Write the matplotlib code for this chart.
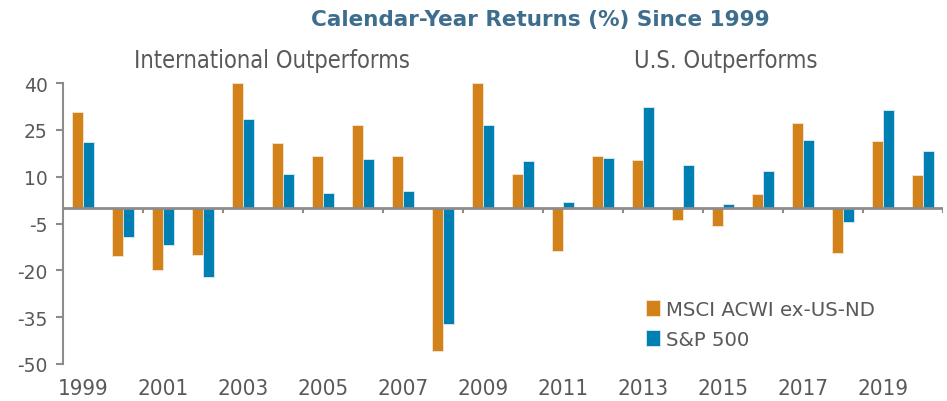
import matplotlib
matplotlib.use("Agg")
import matplotlib.pyplot as plt
import numpy as np

years = list(range(1999, 2021))
msci = [30.6, -15.5, -20.0, -15.0, 40.0, 20.8, 16.5, 26.6, 16.5, -45.8, 40.0,
        11.0, -13.9, 16.7, 15.2, -4.0, -5.8, 4.4, 27.1, -14.4, 21.4, 10.6]
sp500 = [21.0, -9.2, -12.0, -22.2, 28.6, 10.7, 4.8, 15.7, 5.4, -37.2, 26.4,
         14.9, 1.9, 15.9, 32.3, 13.6, 1.2, 11.8, 21.7, -4.5, 31.4, 18.3]
yticks = [40, 25, 10, -5, -20, -35, -50]
series_names = ["MSCI ACWI ex-US-ND", "S&P 500"]

c_orange = "#D3821A"
c_blue = "#007FB2"
grey = "#8c8c8c"
txt = "#595959"

fig = plt.figure(figsize=(9.47, 4.02), dpi=100)
ax = fig.add_axes([63/947, 1-365/402, 880/947, 281/402])

x = np.arange(len(years))
w = 0.285
ax.bar(x - w/2, msci, width=w, color=c_orange, edgecolor="#f3e6d6", linewidth=0.6,
       label=series_names[0], zorder=2)
ax.bar(x + w/2, sp500, width=w, color=c_blue, edgecolor="#d6ecf5", linewidth=0.6,
       label=series_names[1], zorder=2)

ax.set_xlim(-0.5, len(years) - 0.5)
ax.set_ylim(-50, 40)
ax.set_yticks(yticks)
ax.set_yticklabels([str(t) for t in yticks], fontsize=13.5, color=txt,
                   family="DejaVu Sans")
ax.tick_params(axis="y", direction="out", length=5, width=1.5, color=grey, pad=6)

for s in ["top", "right", "bottom"]:
    ax.spines[s].set_visible(False)
ax.spines["left"].set_color(grey)
ax.spines["left"].set_linewidth(1.5)

ax.axhline(0, color=grey, linewidth=2, zorder=3)
bounds = x[1::2] + 0.5
ax.vlines(bounds, -1.7, 0, color=grey, linewidth=1.5, zorder=3)

narrow = dict(family="DejaVu Sans", stretch="condensed")
xt = x[::2]
ax.set_xticks(xt)
ax.set_xticklabels([str(years[i]) for i in xt], fontsize=16, color=txt, **narrow)
ax.tick_params(axis="x", length=0, pad=10)

fig.text(540/947, 1-20/402, "Calendar-Year Returns (%) Since 1999", ha="center",
         va="center", fontsize=15.5, fontweight="bold", color="#3E6E8E",
         family="DejaVu Sans")
fig.text(272/947, 1-61/402, "International Outperforms", ha="center", va="center",
         fontsize=17, color=txt, **narrow)
fig.text(726/947, 1-61/402, "U.S. Outperforms", ha="center", va="center",
         fontsize=17, color=txt, **narrow)

leg = ax.legend(loc="upper left", bbox_to_anchor=((638-63)/880, 1 - (293-84)/281),
                bbox_transform=ax.transAxes, frameon=False, fontsize=14.2,
                handlelength=0.7, handleheight=0.9, handletextpad=0.3,
                labelspacing=0.55, borderaxespad=0)
for t in leg.get_texts():
    t.set_color(txt)

fig.savefig("out.png", dpi=100)
